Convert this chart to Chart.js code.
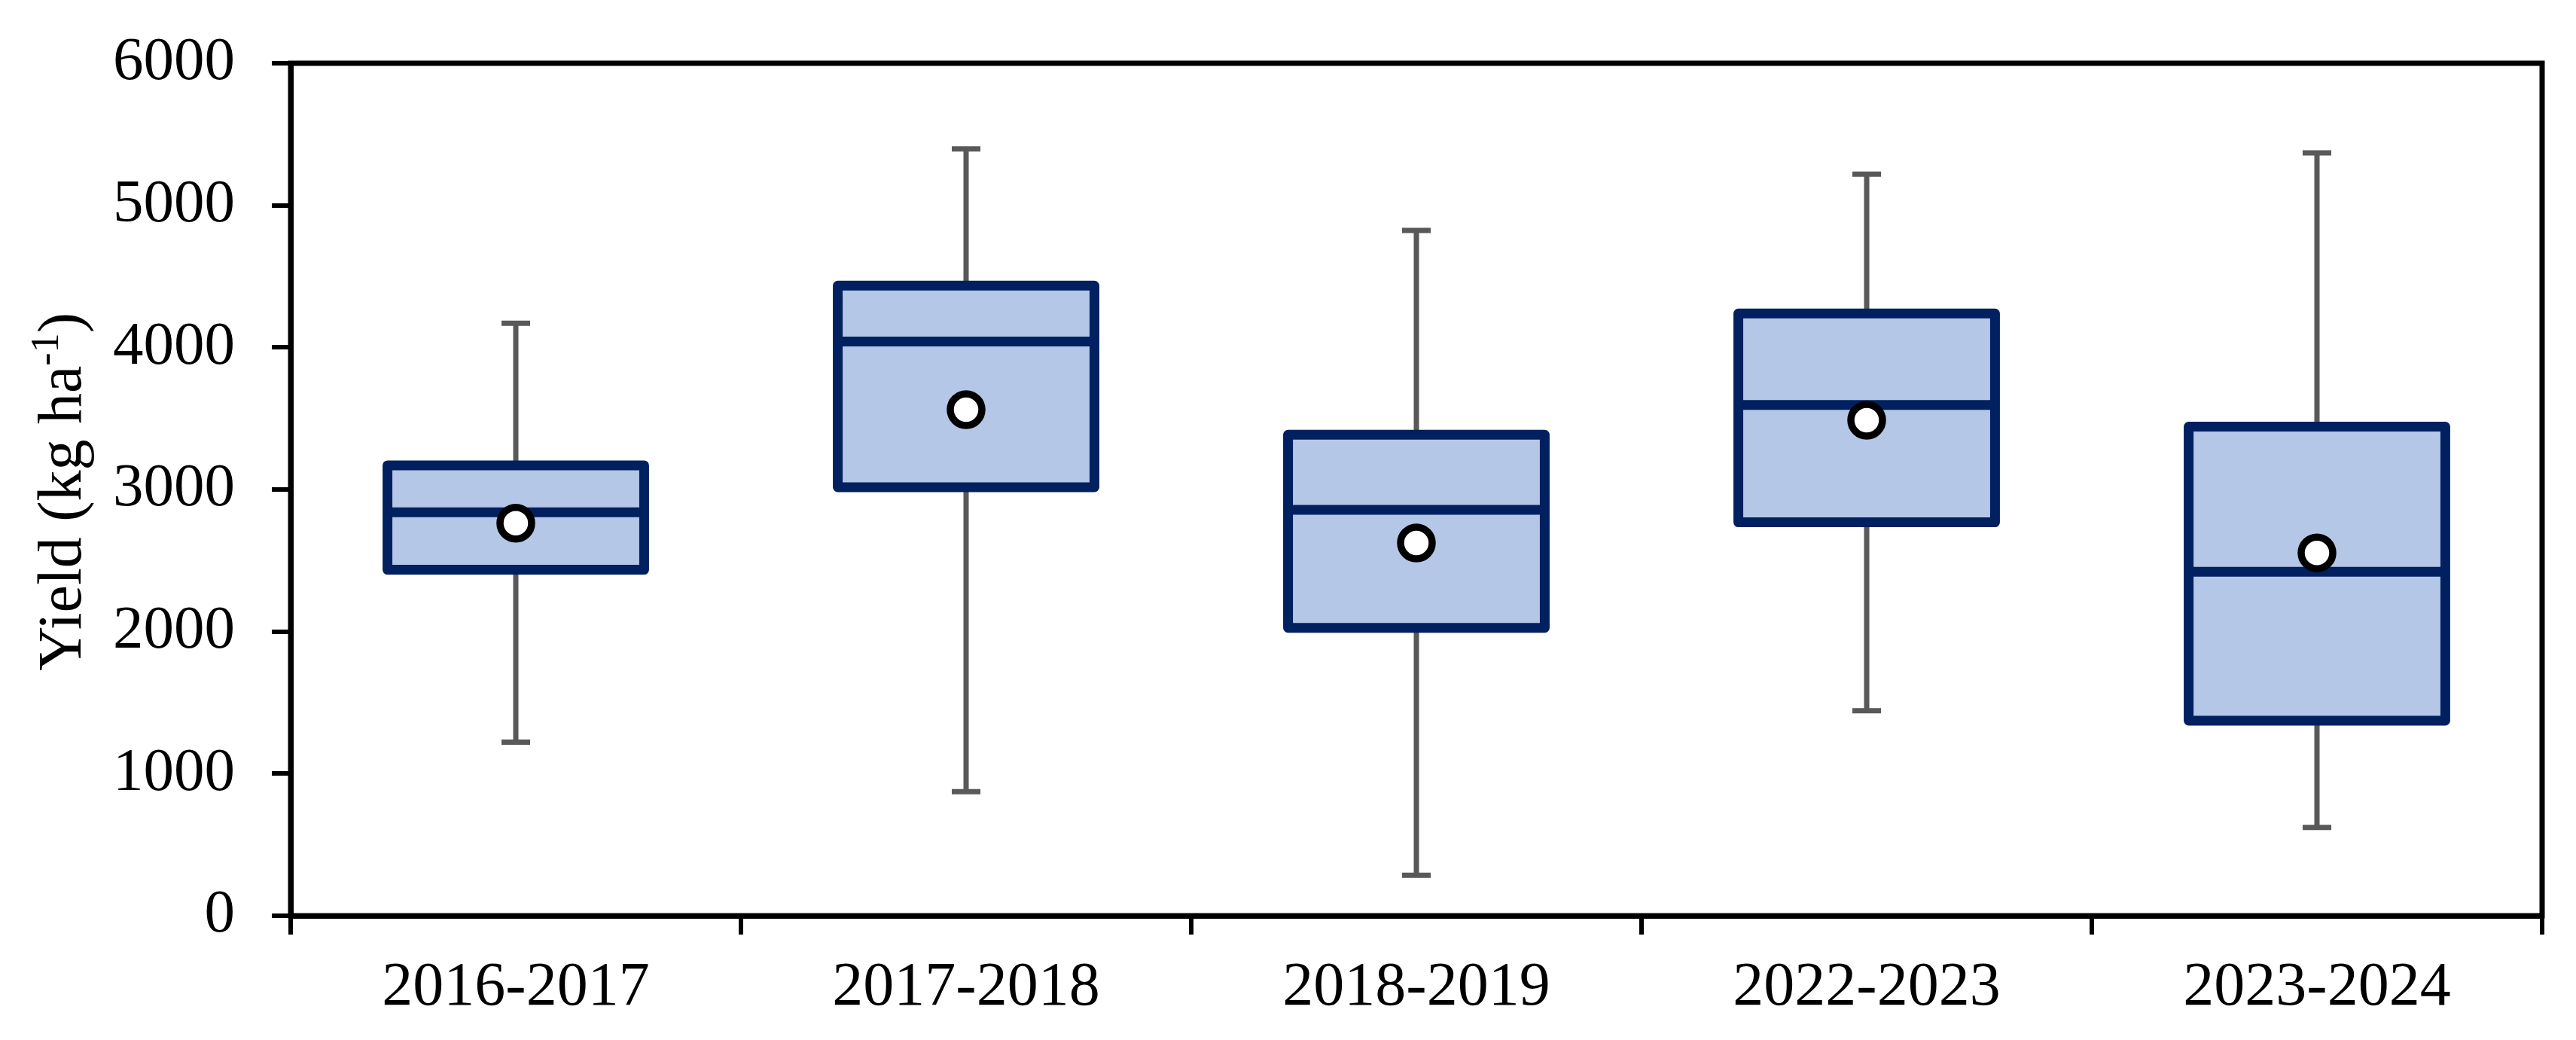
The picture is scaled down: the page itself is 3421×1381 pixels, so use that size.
<!DOCTYPE html>
<html>
<head>
<meta charset="utf-8">
<script src="https://cdn.jsdelivr.net/npm/chart.js@4.4.1/dist/chart.umd.min.js"></script>
<style>
  html, body { margin: 0; padding: 0; background: #ffffff; }
  #wrap { width: 3421px; height: 1381px; }
</style>
</head>
<body>
<div id="wrap"><canvas id="c" width="3421" height="1381"></canvas></div>
<script>
// ---- data ----
const categories  = ['2016-2017', '2017-2018', '2018-2019', '2022-2023', '2023-2024'];
const whiskerLow  = [1222,  873,  285, 1443,  621];
const q1          = [2435, 3016, 2026, 2769, 1373];
const median      = [2840, 4041, 2857, 3595, 2421];
const q3          = [3170, 4435, 3385, 4239, 3442];
const whiskerHigh = [4170, 5397, 4823, 5219, 5369];
const mean        = [2763, 3562, 2624, 3488, 2554];
const yTickValues = [0, 1000, 2000, 3000, 4000, 5000, 6000];
const yTitleMain  = 'Yield (kg ha';
const yTitleSup   = '-1';
const yTitleEnd   = ')';

// ---- styles ----
const FONT = 'Liberation Serif, "Times New Roman", serif';
const BOX_FILL = '#B4C7E7';
const BOX_LINE = '#002060';
const WHISKER = '#595959';

const boxData = q1.map((v, i) => [v, q3[i]]);

const boxPlugin = {
  id: 'boxParts',
  beforeDatasetsDraw(chart) {
    const ctx = chart.ctx;
    const y = chart.scales.y;
    const meta = chart.getDatasetMeta(1);
    ctx.save();
    ctx.strokeStyle = WHISKER;
    ctx.lineWidth = 7;
    ctx.lineCap = 'butt';
    meta.data.forEach((el, i) => {
      const x = el.x;
      const yHi = y.getPixelForValue(whiskerHigh[i]);
      const yLo = y.getPixelForValue(whiskerLow[i]);
      const yQ3 = y.getPixelForValue(q3[i]);
      const yQ1 = y.getPixelForValue(q1[i]);
      ctx.beginPath();
      ctx.moveTo(x, yQ3); ctx.lineTo(x, yHi);
      ctx.moveTo(x, yQ1); ctx.lineTo(x, yLo);
      ctx.moveTo(x - 19, yHi); ctx.lineTo(x + 19, yHi);
      ctx.moveTo(x - 19, yLo); ctx.lineTo(x + 19, yLo);
      ctx.stroke();
    });
    ctx.restore();
  },
  afterDatasetDraw(chart, args) {
    if (args.index !== 1) return;
    const ctx = chart.ctx;
    const y = chart.scales.y;
    ctx.save();
    ctx.strokeStyle = BOX_LINE;
    ctx.lineWidth = 13;
    ctx.lineJoin = 'round';
    args.meta.data.forEach((el, i) => {
      const half = el.width / 2;
      const x = el.x;
      const yT = y.getPixelForValue(q3[i]);
      const yB = y.getPixelForValue(q1[i]);
      const yM = y.getPixelForValue(median[i]);
      ctx.strokeRect(x - half, yT, half * 2, yB - yT);
      ctx.beginPath();
      ctx.moveTo(x - half, yM); ctx.lineTo(x + half, yM);
      ctx.stroke();
    });
    ctx.restore();
  },
  afterDraw(chart) {
    const ctx = chart.ctx;
    const a = chart.chartArea;
    ctx.save();
    // plot frame
    ctx.strokeStyle = '#000';
    ctx.lineWidth = 7;
    ctx.strokeRect(a.left, a.top, a.right - a.left, a.bottom - a.top);
    // y-axis title with superscript
    const size = 82;
    const supSize = 52;
    ctx.fillStyle = '#000';
    ctx.textBaseline = 'alphabetic';
    ctx.textAlign = 'left';
    ctx.font = size + 'px ' + FONT;
    const w1 = ctx.measureText(yTitleMain).width;
    const w3 = ctx.measureText(yTitleEnd).width;
    ctx.font = supSize + 'px ' + FONT;
    const w2 = ctx.measureText(yTitleSup).width;
    const total = w1 + w2 + w3;
    const cy = (a.top + a.bottom) / 2 + 3;
    ctx.translate(107, cy);
    ctx.rotate(-Math.PI / 2);
    let xs = -total / 2;
    ctx.font = size + 'px ' + FONT;
    ctx.fillText(yTitleMain, xs, 0);
    xs += w1;
    ctx.font = supSize + 'px ' + FONT;
    ctx.fillText(yTitleSup, xs, -30);
    xs += w2;
    ctx.font = size + 'px ' + FONT;
    ctx.fillText(yTitleEnd, xs, 0);
    ctx.restore();
  }
};

new Chart(document.getElementById('c'), {
  type: 'bar',
  data: {
    labels: categories,
    datasets: [
      {
        type: 'line',
        label: 'Mean',
        data: mean,
        showLine: false,
        pointRadius: 21,
        pointHoverRadius: 21,
        pointBorderWidth: 9.5,
        pointBackgroundColor: '#ffffff',
        pointBorderColor: '#000000',
        order: 1
      },
      {
        type: 'bar',
        label: 'IQR',
        data: boxData,
        backgroundColor: BOX_FILL,
        borderWidth: 0,
        barPercentage: 0.570,
        categoryPercentage: 1.0,
        order: 2
      }
    ]
  },
  options: {
    responsive: false,
    animation: false,
    events: [],
    layout: { padding: { left: 0, right: 45, top: 84, bottom: 0 } },
    plugins: {
      legend: { display: false },
      tooltip: { enabled: false },
      title: { display: false }
    },
    scales: {
      x: {
        type: 'category',
        offset: true,
        grid: {
          offset: true,
          display: true,
          drawOnChartArea: false,
          drawTicks: true,
          tickLength: 25,
          tickWidth: 6,
          tickColor: '#000',
          color: '#000',
          lineWidth: 6
        },
        border: { display: true, color: '#000', width: 7 },
        ticks: {
          color: '#000',
          font: { family: FONT, size: 82 },
          padding: 22,
          maxRotation: 0,
          autoSkip: false
        },
        afterFit(scale) { scale.height = 165; }
      },
      y: {
        min: 0,
        max: 6000,
        afterBuildTicks(scale) { scale.ticks = yTickValues.map(v => ({ value: v })); },
        grid: {
          display: true,
          drawOnChartArea: false,
          drawTicks: true,
          tickLength: 25,
          tickWidth: 6,
          tickColor: '#000',
          color: '#000',
          lineWidth: 6
        },
        border: { display: true, color: '#000', width: 7 },
        ticks: {
          color: '#000',
          font: { family: FONT, size: 81 },
          padding: 49,
          callback: (v) => String(v)
        },
        afterFit(scale) {
          scale.width = 386;
          scale.paddingTop = 0;
          scale.paddingBottom = 0;
        }
      }
    }
  },
  plugins: [boxPlugin]
});
</script>
</body>
</html>
